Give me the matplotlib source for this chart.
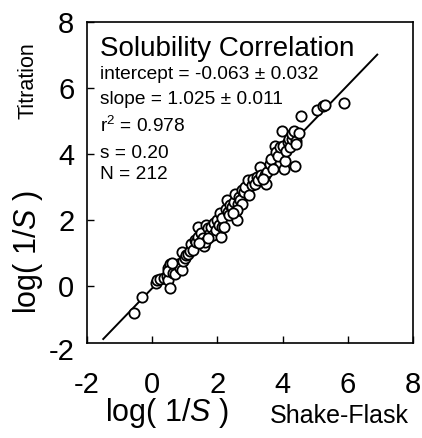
import matplotlib
matplotlib.use("Agg")
import matplotlib.pyplot as plt
import matplotlib.transforms as mtransforms

plt.rcParams['font.family'] = ['Liberation Sans', 'DejaVu Sans']
plt.rcParams['mathtext.fontset'] = 'custom'
plt.rcParams['mathtext.rm'] = 'Liberation Sans'
plt.rcParams['mathtext.it'] = 'Liberation Sans:italic'
plt.rcParams['axes.unicode_minus'] = False

# shake-flask log(1/S) vs titration log(1/S)
shake_flask = [-0.55, -0.30, 0.12, 0.15, 0.25, 0.35, 0.45, 0.50, 0.55, 0.50,
               0.55, 0.48, 0.65, 0.70, 0.80, 0.85, 0.92, 0.90, 0.95, 1.00,
               1.05, 0.60, 1.10, 1.15, 1.20, 1.25, 1.30, 1.35, 1.40, 1.42,
               1.50, 1.55, 1.60, 1.62, 1.65, 1.70, 1.75, 1.78, 1.80, 1.85,
               1.90, 1.95, 2.00, 2.05, 2.08, 2.12, 2.14, 2.15, 2.20, 2.25,
               2.28, 2.32, 2.35, 2.40, 2.45, 2.50, 2.55, 2.58, 2.60, 2.62,
               2.65, 2.70, 2.75, 2.80, 2.85, 2.95, 2.98, 3.05, 3.10, 3.15,
               3.20, 3.25, 3.30, 3.35, 3.45, 3.50, 3.52, 3.60, 3.65, 3.70,
               3.75, 3.80, 3.85, 3.92, 3.97, 4.00, 4.05, 4.08, 4.10, 4.15,
               4.20, 4.22, 4.28, 4.30, 4.35, 4.38, 4.40, 4.42, 4.50, 4.55,
               5.05, 5.25, 5.30, 5.88, 2.75, 2.60, 1.45, 1.72, 2.48, 3.40]
titration = [-0.80, -0.32, 0.10, 0.20, 0.22, 0.25, 0.30, 0.20, -0.05, 0.55,
             0.68, 0.45, 0.40, 0.38, 0.68, 0.55, 0.50, 1.02, 0.75, 0.85,
             0.95, 0.70, 0.98, 1.05, 1.28, 1.10, 1.40, 1.35, 1.50, 1.78,
             1.60, 1.45, 1.22, 1.35, 1.85, 1.75, 1.48, 1.62, 1.80, 1.55,
             1.92, 1.70, 2.00, 1.85, 2.20, 1.50, 1.78, 2.05, 1.80, 2.35,
             2.60, 2.25, 2.15, 2.45, 2.40, 2.55, 2.80, 2.28, 2.00, 2.50,
             2.70, 2.60, 2.90, 2.85, 3.00, 3.20, 2.75, 3.05, 3.25, 3.10,
             3.30, 3.20, 3.62, 3.35, 3.35, 3.08, 3.45, 3.70, 3.85, 3.55,
             4.25, 4.05, 3.95, 4.20, 4.70, 4.25, 3.55, 3.80, 4.10, 4.35,
             4.45, 4.20, 4.45, 4.60, 4.70, 3.65, 4.40, 4.30, 4.65, 5.15,
             5.32, 5.45, 5.48, 5.55, 2.50, 2.30, 1.30, 1.45, 2.20, 3.25]

intercept = -0.063
slope = 1.025
fit_x = [-1.5, 6.9]
fit_y = [intercept + slope * v for v in fit_x]

stats = ["intercept = -0.063 \u00b1 0.032",
         "slope = 1.025 \u00b1 0.011",
         "r$^2$ = 0.978",
         "s = 0.20",
         "N = 212"]
stats_y = [6.41, 5.66, 4.85, 4.03, 3.37]

fig = plt.figure(figsize=(4.22, 4.38), dpi=100)
ax = fig.add_axes([0.206, 0.217, 0.773, 0.733])

ax.plot(fit_x, fit_y, color='black', lw=1.4)
ax.plot(shake_flask, titration, 'o', mfc='white', mec='black', mew=1.3, ms=7.4)

ax.set_xlim(-2, 8)
ax.set_ylim(-1.72, 8)
ax.set_xticks([-2, 0, 2, 4, 6, 8])
ax.set_yticks([0, 2, 4, 6, 8])
ax.tick_params(direction='in', length=5, width=1, labelsize=21)
ax.tick_params(axis='x', pad=20)
ax.tick_params(axis='y', pad=9)
for sp in ax.spines.values():
    sp.set_linewidth(1.2)

# the -2 on the y axis sits below the frame
off = mtransforms.offset_copy(ax.get_yaxis_transform(), fig=fig, x=-9, y=0, units='points')
ax.text(0, -2, "-2", transform=off, ha='right', va='center', fontsize=21, clip_on=False)

ax.text(-1.6, 7.19, "Solubility Correlation", fontsize=20, va='center')
for s, yy in zip(stats, stats_y):
    ax.text(-1.6, yy, s, fontsize=13.8, va='center')

fig.text(28 / 422, 1 - 252 / 438, "log( 1/$\\mathit{S}$ )", rotation=90, fontsize=22,
         ha='center', va='center')
fig.text(28 / 422, 1 - 81 / 438, "Titration", rotation=90, fontsize=15.5,
         ha='center', va='center')
fig.text(167 / 422, 1 - 413 / 438, "log( 1/$\\mathit{S}$ )", fontsize=22,
         ha='center', va='center')
fig.text(270 / 422, 1 - 416 / 438, "Shake-Flask", fontsize=18,
         ha='left', va='center')

fig.savefig("out.png", dpi=100)
